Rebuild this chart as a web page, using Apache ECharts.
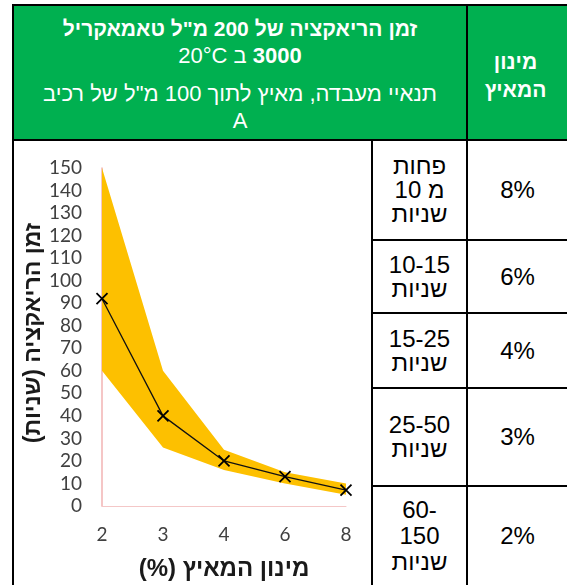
<!DOCTYPE html>
<html>
<head>
<meta charset="utf-8">
<script src="https://cdn.jsdelivr.net/npm/echarts@6/dist/echarts.min.js"></script>
<style>
  body { margin: 0; width: 567px; height: 585px; overflow: hidden; background: #fff; position: relative;
         font-family: "Liberation Sans", Arial, "DejaVu Sans", sans-serif; }
  .ln { position: absolute; background: #000; }
  .cell { position: absolute; display: flex; flex-direction: column; align-items: center; justify-content: center;
          text-align: center; direction: rtl; }
  .hdr { color: #fff; font-size: 22px; }
  .txt { color: #000; font-size: 24px; line-height: 24px; }
  #chart01 { position: absolute; left: 14px; top: 141px; width: 357px; height: 444px; }
</style>
</head>
<body>
<div style="position:absolute;left:14px;top:6px;width:600px;height:133px;background:#00B050"></div>

<div class="cell hdr" style="left:14px;top:6px;width:452px;height:133px;">
  <div style="line-height:27px;margin-top:3px"><b style="font-size:21px">זמן הריאקציה של 200 מ"ל טאמאקריל</b><br><b style="font-size:22px">3000</b> ב 20°C</div>
  <div style="line-height:27px;margin-top:11px">תנאיי מעבדה, מאיץ לתוך 100 מ"ל של רכיב<br>A</div>
</div>
<div class="cell hdr" style="left:468px;top:6px;width:95px;height:133px;font-weight:bold;font-size:21px;line-height:28px;">
  <div style="margin-top:6px">מינון<br>המאיץ</div>
</div>

<div class="cell txt" style="left:373px;top:141px;width:93px;height:98px;"><div>פחות<br>מ 10<br>שניות</div></div>
<div class="cell txt" style="left:373px;top:241px;width:93px;height:71px;"><div>10-15<br>שניות</div></div>
<div class="cell txt" style="left:373px;top:314px;width:93px;height:73px;"><div>15-25<br>שניות</div></div>
<div class="cell txt" style="left:373px;top:389px;width:93px;height:96px;"><div>25-50<br>שניות</div></div>
<div class="cell txt" style="left:373px;top:487px;width:93px;height:98px;line-height:26px;"><div><span dir="ltr">60-</span><br>150<br>שניות</div></div>

<div class="cell txt" style="left:468px;top:141px;width:99px;height:98px;"><div>8%</div></div>
<div class="cell txt" style="left:468px;top:241px;width:99px;height:71px;"><div>6%</div></div>
<div class="cell txt" style="left:468px;top:314px;width:99px;height:73px;"><div>4%</div></div>
<div class="cell txt" style="left:468px;top:389px;width:99px;height:96px;"><div>3%</div></div>
<div class="cell txt" style="left:468px;top:487px;width:99px;height:98px;"><div>2%</div></div>

<div class="ln" style="left:12px;top:4px;width:600px;height:2px"></div>
<div class="ln" style="left:12px;top:4px;width:2px;height:600px"></div>
<div class="ln" style="left:12px;top:139px;width:600px;height:2px"></div>
<div class="ln" style="left:466px;top:4px;width:2px;height:600px"></div>
<div class="ln" style="left:371px;top:139px;width:2px;height:600px"></div>
<div class="ln" style="left:371px;top:239px;width:300px;height:2px"></div>
<div class="ln" style="left:371px;top:312px;width:300px;height:2px"></div>
<div class="ln" style="left:371px;top:387px;width:300px;height:2px"></div>
<div class="ln" style="left:371px;top:485px;width:300px;height:2px"></div>

<div id="chart01" dir="rtl"></div>

<script>
var doses = ['2', '3', '4', '6', '8'];
var meanTime = [92, 40, 20, 13, 7];
var lowTime = [60, 26, 16, 10, 5];
var highTime = [150, 60, 25, 15, 10];

var bandWidth = highTime.map(function (v, i) { return v - lowTime[i]; });

var chartDom = document.getElementById('chart01');
var myChart = echarts.init(chartDom);
var option;

option = {
    animation: false,
    grid: {
      left: 88,
      right: 25,
      top: 27,
      bottom: 79,
      outerBoundsMode: 'none',
      containLabel: false
    },
    // y axis title placed by hand, the axis name gets pushed away from the labels
    graphic: [
      {
        type: 'text',
        x: 20,
        y: 192,
        rotation: Math.PI / 2,
        style: {
          text: 'זמן הריאקציה (שניות)',
          font: 'bold 23px "Liberation Sans", Arial, sans-serif',
          fill: '#1a1a1a',
          textAlign: 'center',
          textVerticalAlign: 'middle'
        }
      }
    ],
    xAxis: {
      type: 'category',
      data: doses,
      boundaryGap: false,
      name: 'מינון המאיץ (%)',
      nameLocation: 'middle',
      nameGap: 51,
      nameTextStyle: {
        fontSize: 24,
        fontWeight: 'bold',
        color: '#1a1a1a',
        fontFamily: 'Liberation Sans'
      },
      axisLine: { lineStyle: { color: '#F4C7C7', width: 1 } },
      axisTick: { show: false },
      axisLabel: {
        margin: 19,
        fontSize: 19,
        color: '#404040',
        fontFamily: 'Lato'
      }
    },
    yAxis: {
      type: 'value',
      min: 0,
      max: 150,
      interval: 10,
      axisLine: { show: true, lineStyle: { color: '#F2B3B3', width: 1.5 } },
      axisTick: { show: false },
      splitLine: { show: false },
      axisLabel: {
        margin: 20,
        fontSize: 19,
        color: '#404040',
        fontFamily: 'Lato'
      }
    },
    series: [
      {
        name: 'low',
        type: 'line',
        stack: 'band',
        data: lowTime,
        symbol: 'none',
        lineStyle: { opacity: 0 },
        silent: true
      },
      {
        name: 'band',
        type: 'line',
        stack: 'band',
        data: bandWidth,
        symbol: 'none',
        lineStyle: { opacity: 0 },
        areaStyle: { color: '#FDC000', opacity: 1 },
        silent: true
      },
      {
        name: 'mean',
        type: 'line',
        data: meanTime,
        symbol: 'path://M0,0L10,10M10,0L0,10',
        symbolSize: 11,
        showAllSymbol: true,
        lineStyle: { color: '#111', width: 1.3 },
        itemStyle: { color: 'none', borderColor: '#000', borderWidth: 1.8 },
        z: 5
      }
    ]
  };

option && myChart.setOption(option);
</script>
</body>
</html>
